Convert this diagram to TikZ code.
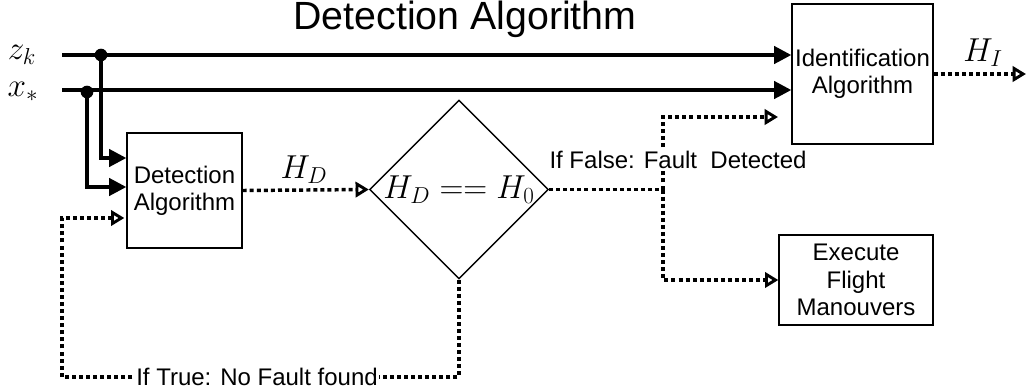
\documentclass[tikz,border=0pt]{standalone}
\usepackage{fontspec}
\setmainfont{Liberation Sans}
\usetikzlibrary{arrows.meta,shapes.geometric,calc}
\begin{document}
\begin{tikzpicture}[x=0.75pt,y=-0.75pt,
  box/.style={draw, line width=1pt, align=center, inner sep=0,
    font=\fontsize{18}{20.5}\selectfont},
  decision/.style={draw, diamond, line width=1pt, inner sep=0,
    font=\fontsize{24}{27}\selectfont},
  solidarrow/.style={line width=2.7pt, -{Triangle[length=13pt,width=13pt]}},
  dotline/.style={line width=2.6pt, dash pattern=on 3pt off 2.3pt},
  dotarrow/.style={dotline, -{Triangle[open,length=10pt,width=11.5pt,line width=2.2pt]}},
  mathlbl/.style={font=\fontsize{25}{28}\selectfont, inner sep=0},
  txt/.style={font=\fontsize{18}{20}\selectfont, fill=white, inner xsep=1pt, inner ysep=2pt},
  junction/.style={circle, fill, inner sep=0, minimum size=9.5pt},
]
\useasboundingbox (0,0) rectangle (1029,390);

% title
\node[font=\fontsize{29.5}{33}\selectfont, anchor=base, inner sep=0] (title) at (465,29.3) {Detection Algorithm};

% blocks
\node[box, minimum width=86.25pt, minimum height=86.25pt] (det) at (184.5,190.5) {Detection\\Algorithm};
\node[box, minimum width=105.75pt, minimum height=105pt] (ident) at (862.5,74) {Identification\\Algorithm};
\node[box, minimum width=115.5pt, minimum height=67.5pt] (exec) at (856,280) {Execute\\Flight\\Manouvers};
\node[decision, minimum width=134pt, minimum height=131pt] (dia) at (459,189.5) {$H_D == H_0$};

% input signals
\node[mathlbl] (zk) at (22,55) {$z_k$};
\node[mathlbl] (xs) at (23,92) {$x_*$};
\coordinate (zin) at (62,55);
\coordinate (xin) at (62,90);
\coordinate (zj) at (101,55);
\coordinate (xj) at (87,92);

\draw[solidarrow] (zin) -- (zin -| ident.west);
\draw[solidarrow] (xin) -- (xin -| ident.west);
\draw[solidarrow] (zj) |- ($(det.west)+(0,-32.5)$);
\draw[solidarrow] (xj) |- ($(det.west)+(0,-3.5)$);
\node[junction] (zdot) at (zj) {};
\node[junction] (xdot) at (xj) {};

% detection output to the decision
\draw[dotarrow] (det.east) -- (dia.west);
\node[mathlbl] (hd) at (304,170) {$H_D$};

% true branch: back to the detection block
\coordinate (fb1) at (459,377);
\coordinate (fb2) at (62,377);
\draw[dotarrow, shorten >=1.5pt] (dia.south) -- (fb1) -- (fb2) |- ($(det.west)+(0,27.5)$);
\node[txt] (lbltrue) at (257,377) {If True: No Fault found};

% false branch: identification and flight manoeuvres
\coordinate (jn) at (663,189.5);
\coordinate (idin) at (778,117);
\draw[dotline] (dia.east) -- (jn);
\draw[dotarrow] (jn) |- (idin);
\draw[dotarrow] (jn) |- (exec.west);
\node[txt] (lblfalse) at (678,160) {If False: Fault~ Detected};

% identification output
\coordinate (hout) at (1026,74);
\draw[dotarrow] (ident.east) -- (hout);
\node[mathlbl] (hi) at (983,53) {$H_I$};
\end{tikzpicture}
\end{document}
